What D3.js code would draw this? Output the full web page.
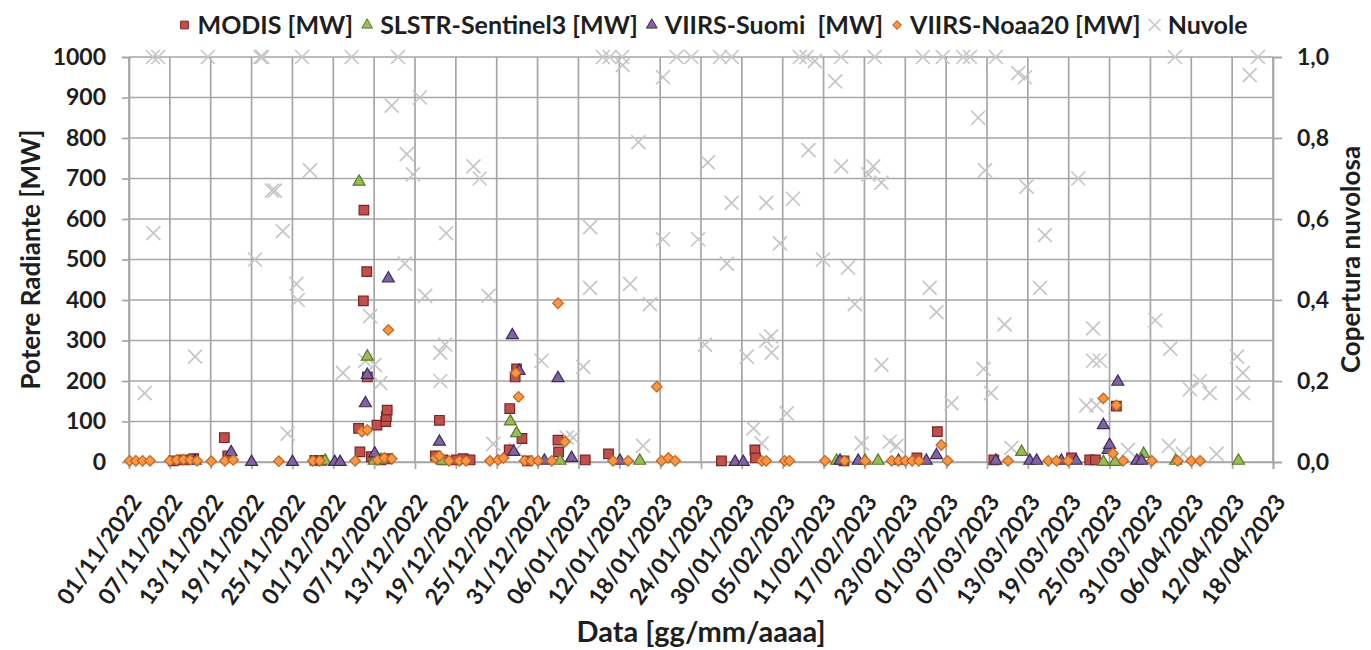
<!DOCTYPE html>
<html>
<head>
<meta charset="utf-8">
<script src="https://cdn.jsdelivr.net/npm/d3@7"></script>
<style>
body { margin: 0; background: #fff; }
text { font-family: Lato, "Open Sans", sans-serif; font-weight: bold; fill: #1e1e1e; }
</style>
</head>
<body>
<svg class="chart" width="1371" height="650"></svg>
<script>
// etichette asse x (ogni 6 giorni)
var dateLabels = ["01/11/2022", "07/11/2022", "13/11/2022", "19/11/2022", "25/11/2022", "01/12/2022",
  "07/12/2022", "13/12/2022", "19/12/2022", "25/12/2022", "31/12/2022", "06/01/2023", "12/01/2023",
  "18/01/2023", "24/01/2023", "30/01/2023", "05/02/2023", "11/02/2023", "17/02/2023", "23/02/2023",
  "01/03/2023", "07/03/2023", "13/03/2023", "19/03/2023", "25/03/2023", "31/03/2023", "06/04/2023",
  "12/04/2023", "18/04/2023"];
var leftTicks = [0, 100, 200, 300, 400, 500, 600, 700, 800, 900, 1000];
var rightTicks = [0, 0.2, 0.4, 0.6, 0.8, 1.0];

// potere radiante [MW]
var modis = [
  ["07/11/2022 12:00", 3], ["09/11/2022 00:00", 5], ["10/11/2022 12:00", 8], ["15/11/2022 00:00", 60],
  ["15/11/2022 12:00", 15], ["28/11/2022 07:00", 4], ["29/11/2022 07:00", 4], ["04/12/2022 17:00", 83],
  ["04/12/2022 22:00", 25], ["05/12/2022 12:00", 622], ["05/12/2022 10:00", 398], ["05/12/2022 22:00", 470],
  ["06/12/2022 00:00", 210], ["06/12/2022 14:00", 13], ["07/12/2022 10:00", 91], ["08/12/2022 00:00", 5],
  ["08/12/2022 17:00", 100], ["08/12/2022 19:00", 112], ["08/12/2022 22:00", 128], ["09/12/2022 00:00", 8],
  ["16/12/2022 00:00", 15], ["16/12/2022 14:00", 103], ["17/12/2022 02:00", 5], ["19/12/2022 02:00", 5],
  ["20/12/2022 02:00", 8], ["21/12/2022 02:00", 5], ["26/12/2022 22:00", 132], ["26/12/2022 20:00", 30],
  ["27/12/2022 17:00", 210], ["27/12/2022 22:00", 230], ["28/12/2022 17:00", 58], ["29/12/2022 12:00", 3],
  ["03/01/2023 00:00", 54], ["03/01/2023 02:00", 25], ["07/01/2023 00:00", 5], ["10/01/2023 10:00", 20],
  ["27/01/2023 00:00", 3], ["31/01/2023 22:00", 30], ["01/02/2023 00:00", 10], ["14/02/2023 00:00", 3],
  ["24/02/2023 17:00", 10], ["27/02/2023 17:00", 75], ["08/03/2023 00:00", 5], ["19/03/2023 10:00", 10],
  ["22/03/2023 02:00", 5], ["22/03/2023 22:00", 5], ["26/03/2023 00:00", 138]
];
var slstr = [
  ["29/11/2022 19:00", 3], ["04/12/2022 19:00", 692], ["06/12/2022 00:00", 260], ["07/12/2022 00:00", 3],
  ["08/12/2022 00:00", 5], ["17/12/2022 00:00", 3], ["27/12/2022 00:00", 100], ["27/12/2022 22:00", 71],
  ["03/01/2023 07:00", 3], ["15/01/2023 00:00", 3], ["12/02/2023 22:00", 3], ["17/02/2023 02:00", 3],
  ["19/02/2023 00:00", 3], ["12/03/2023 02:00", 25], ["24/03/2023 02:00", 0], ["25/03/2023 19:00", 0],
  ["30/03/2023 00:00", 20], ["03/04/2023 17:00", 3], ["12/04/2023 22:00", 3]
];
var suomi = [
  ["10/11/2022 17:00", 3], ["16/11/2022 00:00", 24], ["19/11/2022 00:00", 0], ["25/11/2022 00:00", 0],
  ["01/12/2022 05:00", 0], ["02/12/2022 00:00", 0], ["05/12/2022 17:00", 145], ["06/12/2022 00:00", 215],
  ["07/12/2022 02:00", 21], ["09/12/2022 02:00", 453], ["16/12/2022 14:00", 50], ["27/12/2022 07:00", 313],
  ["27/12/2022 12:00", 25], ["28/12/2022 07:00", 225], ["01/01/2023 00:00", 3], ["03/01/2023 00:00", 207],
  ["05/01/2023 00:00", 10], ["12/01/2023 02:00", 3], ["29/01/2023 00:00", 0], ["30/01/2023 05:00", 0],
  ["13/02/2023 10:00", 3], ["16/02/2023 02:00", 3], ["22/02/2023 00:00", 3], ["26/02/2023 02:00", 3],
  ["27/02/2023 14:00", 17], ["08/03/2023 07:00", 3], ["13/03/2023 07:00", 3], ["14/03/2023 07:00", 3],
  ["17/03/2023 22:00", 3], ["20/03/2023 02:00", 3], ["24/03/2023 02:00", 91], ["24/03/2023 19:00", 30],
  ["25/03/2023 00:00", 42], ["26/03/2023 05:00", 198], ["29/03/2023 00:00", 3], ["29/03/2023 17:00", 3]
];
var noaa20 = [
  ["01/11/2022 02:00", 3], ["02/11/2022 00:00", 3], ["03/11/2022 00:00", 3], ["04/11/2022 02:00", 3],
  ["07/11/2022 00:00", 3], ["08/11/2022 00:00", 5], ["09/11/2022 00:00", 6], ["10/11/2022 00:00", 5],
  ["11/11/2022 00:00", 3], ["13/11/2022 02:00", 2], ["15/11/2022 02:00", 3], ["16/11/2022 07:00", 5],
  ["23/11/2022 00:00", 2], ["28/11/2022 00:00", 3], ["29/11/2022 00:00", 3], ["04/12/2022 05:00", 3],
  ["05/12/2022 05:00", 75], ["06/12/2022 00:00", 79], ["07/12/2022 12:00", 5], ["08/12/2022 12:00", 10],
  ["09/12/2022 02:00", 326], ["09/12/2022 14:00", 8], ["16/12/2022 00:00", 10], ["16/12/2022 14:00", 15],
  ["18/12/2022 00:00", 3], ["19/12/2022 12:00", 3], ["20/12/2022 12:00", 3], ["24/12/2022 00:00", 3],
  ["25/12/2022 05:00", 5], ["26/12/2022 00:00", 10], ["27/12/2022 19:00", 220], ["28/12/2022 05:00", 161],
  ["29/12/2022 02:00", 3], ["30/12/2022 02:00", 3], ["31/12/2022 02:00", 3], ["02/01/2023 02:00", 3],
  ["03/01/2023 00:00", 392], ["04/01/2023 00:00", 50], ["11/01/2023 02:00", 3], ["13/01/2023 07:00", 3],
  ["17/01/2023 12:00", 186], ["18/01/2023 05:00", 3], ["19/01/2023 05:00", 10], ["20/01/2023 05:00", 3],
  ["01/02/2023 22:00", 3], ["02/02/2023 14:00", 3], ["05/02/2023 07:00", 3], ["06/02/2023 00:00", 3],
  ["11/02/2023 05:00", 3], ["14/02/2023 02:00", 3], ["17/02/2023 02:00", 3], ["21/02/2023 00:00", 3],
  ["22/02/2023 00:00", 3], ["23/02/2023 00:00", 3], ["24/02/2023 00:00", 3], ["25/02/2023 00:00", 3],
  ["28/02/2023 07:00", 42], ["01/03/2023 05:00", 3], ["10/03/2023 02:00", 3], ["16/03/2023 00:00", 3],
  ["17/03/2023 05:00", 3], ["18/03/2023 22:00", 3], ["24/03/2023 02:00", 157], ["25/03/2023 12:00", 21],
  ["26/03/2023 00:00", 140], ["27/03/2023 00:00", 3], ["31/03/2023 05:00", 3], ["04/04/2023 00:00", 3],
  ["06/04/2023 00:00", 3], ["07/04/2023 07:00", 3]
];
// copertura nuvolosa (asse secondario)
var nuvole = [
  ["03/11/2022 07:00", 0.17], ["04/11/2022 14:00", 0.565], ["04/11/2022 12:00", 1.0], ["05/11/2022 07:00", 1.0],
  ["10/11/2022 17:00", 0.26], ["12/11/2022 14:00", 1.0], ["19/11/2022 12:00", 0.50], ["20/11/2022 07:00", 1.0],
  ["20/11/2022 14:00", 1.0], ["22/11/2022 00:00", 0.67], ["22/11/2022 10:00", 0.67], ["23/11/2022 14:00", 0.57],
  ["24/11/2022 07:00", 0.07], ["25/11/2022 14:00", 0.44], ["25/11/2022 19:00", 0.40], ["26/11/2022 10:00", 1.0],
  ["27/11/2022 14:00", 0.72], ["02/12/2022 10:00", 0.22], ["03/12/2022 17:00", 1.0], ["05/12/2022 17:00", 0.25],
  ["06/12/2022 10:00", 0.36], ["07/12/2022 02:00", 0.24], ["07/12/2022 22:00", 0.195], ["09/12/2022 14:00", 0.88],
  ["10/12/2022 12:00", 1.0], ["11/12/2022 12:00", 0.49], ["11/12/2022 19:00", 0.76], ["12/12/2022 17:00", 0.71],
  ["13/12/2022 17:00", 0.90], ["14/12/2022 12:00", 0.41], ["16/12/2022 17:00", 0.27], ["17/12/2022 10:00", 0.29],
  ["16/12/2022 17:00", 0.20], ["17/12/2022 14:00", 0.565], ["21/12/2022 14:00", 0.73], ["22/12/2022 12:00", 0.70],
  ["23/12/2022 19:00", 0.41], ["24/12/2022 12:00", 0.045], ["27/12/2022 19:00", 0.03], ["31/12/2022 14:00", 0.25],
  ["04/01/2023 07:00", 0.06], ["05/01/2023 05:00", 0.06], ["06/01/2023 17:00", 0.235], ["07/01/2023 17:00", 0.58],
  ["07/01/2023 17:00", 0.43], ["09/01/2023 14:00", 1.0], ["10/01/2023 14:00", 1.0], ["12/01/2023 10:00", 1.0],
  ["12/01/2023 12:00", 0.98], ["13/01/2023 14:00", 0.44], ["14/01/2023 19:00", 0.79], ["15/01/2023 12:00", 0.04],
  ["16/01/2023 12:00", 0.39], ["18/01/2023 10:00", 0.95], ["18/01/2023 10:00", 0.55], ["20/01/2023 10:00", 1.0],
  ["22/01/2023 14:00", 1.0], ["23/01/2023 14:00", 0.55], ["24/01/2023 14:00", 0.29], ["25/01/2023 00:00", 0.74],
  ["26/01/2023 19:00", 1.0], ["28/01/2023 12:00", 1.0], ["27/01/2023 19:00", 0.49], ["28/01/2023 12:00", 0.64],
  ["30/01/2023 17:00", 0.26], ["31/01/2023 17:00", 0.083], ["01/02/2023 22:00", 0.046], ["02/02/2023 14:00", 0.64],
  ["02/02/2023 14:00", 0.30], ["03/02/2023 07:00", 0.31], ["03/02/2023 09:00", 0.27], ["04/02/2023 14:00", 0.54],
  ["05/02/2023 14:00", 0.12], ["06/02/2023 12:00", 0.65], ["07/02/2023 12:00", 1.0], ["08/02/2023 12:00", 1.0],
  ["09/02/2023 17:00", 0.99], ["08/02/2023 19:00", 0.77], ["10/02/2023 22:00", 0.50], ["12/02/2023 17:00", 0.94],
  ["13/02/2023 14:00", 1.0], ["13/02/2023 14:00", 0.73], ["14/02/2023 14:00", 0.48], ["15/02/2023 14:00", 0.39],
  ["16/02/2023 14:00", 0.046], ["17/02/2023 14:00", 0.71], ["18/02/2023 07:00", 0.73], ["18/02/2023 12:00", 1.0],
  ["19/02/2023 12:00", 0.69], ["19/02/2023 12:00", 0.24], ["20/02/2023 17:00", 0.05], ["21/02/2023 17:00", 0.04],
  ["25/02/2023 14:00", 1.0], ["26/02/2023 14:00", 0.43], ["27/02/2023 14:00", 0.37], ["28/02/2023 12:00", 1.0],
  ["01/03/2023 19:00", 0.145], ["03/03/2023 12:00", 1.0], ["04/03/2023 12:00", 1.0], ["05/03/2023 17:00", 0.85],
  ["06/03/2023 12:00", 0.23], ["06/03/2023 17:00", 0.72], ["07/03/2023 14:00", 0.17], ["08/03/2023 07:00", 1.0],
  ["09/03/2023 14:00", 0.34], ["10/03/2023 14:00", 0.035], ["11/03/2023 14:00", 0.96], ["12/03/2023 14:00", 0.95],
  ["12/03/2023 19:00", 0.68], ["14/03/2023 19:00", 0.43], ["15/03/2023 12:00", 0.56], ["20/03/2023 10:00", 0.70],
  ["21/03/2023 14:00", 0.14], ["23/03/2023 02:00", 0.14], ["22/03/2023 14:00", 0.33], ["22/03/2023 14:00", 0.25],
  ["23/03/2023 14:00", 0.25], ["27/03/2023 17:00", 0.03], ["31/03/2023 17:00", 0.35], ["02/04/2023 17:00", 0.04],
  ["02/04/2023 22:00", 0.28], ["03/04/2023 14:00", 1.0], ["04/04/2023 19:00", 0.02], ["05/04/2023 19:00", 0.18],
  ["07/04/2023 07:00", 0.20], ["08/04/2023 17:00", 0.17], ["09/04/2023 17:00", 0.02], ["12/04/2023 17:00", 0.26],
  ["13/04/2023 14:00", 0.22], ["13/04/2023 14:00", 0.17], ["14/04/2023 14:00", 0.955], ["15/04/2023 19:00", 1.0]
];

var parseDay = d3.utcParse("%d/%m/%Y"),
    parseTime = d3.utcParse("%d/%m/%Y %H:%M");

var margin = {top: 57, right: 98, bottom: 188, left: 129},
    width = 1371 - margin.left - margin.right,
    height = 650 - margin.top - margin.bottom;

var gridColor = "#a6a6a6";

var x = d3.scaleUtc()
    .domain([parseDay(dateLabels[0]), parseDay(dateLabels[dateLabels.length - 1])])
    .range([0, width]);
var y = d3.scaleLinear().domain([0, 1000]).range([height, 0]);
var y2 = d3.scaleLinear().domain([0, 1]).range([height, 0]);

var svg = d3.select(".chart");
var g = svg.append("g").attr("transform", "translate(" + margin.left + "," + margin.top + ")");

// griglia orizzontale e verticale
g.selectAll(".hgrid").data(leftTicks).enter().append("line")
  .attr("x1", 0).attr("x2", width)
  .attr("y1", function(d) { return y(d); }).attr("y2", function(d) { return y(d); })
  .attr("stroke", gridColor).attr("stroke-width", 1.7);
g.selectAll(".vgrid").data(dateLabels).enter().append("line")
  .attr("x1", function(d) { return x(parseDay(d)); }).attr("x2", function(d) { return x(parseDay(d)); })
  .attr("y1", 0).attr("y2", height)
  .attr("stroke", gridColor).attr("stroke-width", 1.7);

// assi
var yAxis = g.append("g").call(d3.axisLeft(y).tickValues(leftTicks).tickSize(7).tickPadding(16)
  .tickFormat(d3.format("d")));
var y2Axis = g.append("g").attr("transform", "translate(" + width + ",0)")
  .call(d3.axisRight(y2).tickValues(rightTicks).tickSize(9).tickPadding(15)
    .tickFormat(function(d) { return d3.format(".1f")(d).replace(".", ","); }));
var xAxis = g.append("g").attr("transform", "translate(0," + height + ")")
  .call(d3.axisBottom(x).tickValues(dateLabels.map(parseDay)).tickSize(7).tickFormat(""));

[yAxis, y2Axis, xAxis].forEach(function(a) {
  a.select(".domain").attr("stroke", gridColor).attr("stroke-width", 1.7);
  a.selectAll(".tick line").attr("stroke", gridColor).attr("stroke-width", 1.7);
  a.selectAll(".tick text").attr("font-size", 23).attr("font-family", null).attr("fill", "#1e1e1e");
});

// etichette date ruotate
g.selectAll(".xlabel").data(dateLabels).enter().append("text")
  .attr("transform", function(d) { return "translate(" + (x(parseDay(d)) + 7) + "," + (height + 35) + ") rotate(-55)"; })
  .attr("text-anchor", "end")
  .attr("dy", "0.35em")
  .attr("font-size", 23)
  .text(function(d) { return d; });

// marcatori
function drawSeries(data, cls, shape, size, fill, stroke, rot) {
  g.selectAll("." + cls).data(data).enter().append("path")
    .attr("class", cls)
    .attr("d", d3.symbol().type(shape).size(size))
    .attr("transform", function(d) {
      return "translate(" + x(parseTime(d[0])) + "," + y(d[1]) + ")" + (rot ? " rotate(" + rot + ")" : "");
    })
    .attr("fill", fill).attr("stroke", stroke).attr("stroke-width", 1.2);
}

var crossPath = "M-7,-7L7,7M-7,7L7,-7";
g.selectAll(".nuvole").data(nuvole).enter().append("path")
  .attr("class", "nuvole")
  .attr("d", crossPath)
  .attr("transform", function(d) { return "translate(" + x(parseTime(d[0])) + "," + y2(d[1]) + ")"; })
  .attr("fill", "none").attr("stroke", "#c6c6c6").attr("stroke-width", 1.7);

drawSeries(modis, "modis", d3.symbolSquare, 92, "#c0504d", "#7a2523", 0);
drawSeries(slstr, "slstr", d3.symbolTriangle, 62, "#9bbb59", "#5b7a2a", 0);
drawSeries(suomi, "suomi", d3.symbolTriangle, 62, "#8064a2", "#3f2c5a", 0);
drawSeries(noaa20, "noaa", d3.symbolSquare, 56, "#f79646", "#c0651f", 45);

// titoli assi
svg.append("text")
  .attr("transform", "translate(40," + (margin.top + height / 2) + ") rotate(-90)")
  .attr("text-anchor", "middle").attr("font-size", 26)
  .text("Potere Radiante [MW]");
svg.append("text")
  .attr("transform", "translate(1360," + (margin.top + height / 2) + ") rotate(-90)")
  .attr("text-anchor", "middle").attr("font-size", 26)
  .text("Copertura nuvolosa");
svg.append("text")
  .attr("x", margin.left + width / 2).attr("y", 642)
  .attr("text-anchor", "middle").attr("font-size", 29)
  .text("Data [gg/mm/aaaa]");

// legenda
var legendItems = [
  {name: "MODIS [MW]", shape: d3.symbolSquare, size: 60, fill: "#c0504d", stroke: "#7a2523", rot: 0},
  {name: "SLSTR-Sentinel3 [MW]", shape: d3.symbolTriangle, size: 50, fill: "#9bbb59", stroke: "#5b7a2a", rot: 0},
  {name: "VIIRS-Suomi  [MW]", shape: d3.symbolTriangle, size: 50, fill: "#8064a2", stroke: "#3f2c5a", rot: 0},
  {name: "VIIRS-Noaa20 [MW]", shape: d3.symbolSquare, size: 36, fill: "#f79646", stroke: "#c0651f", rot: 45},
  {name: "Nuvole", cross: true}
];
var legend = svg.append("g");
var lx = 0;
legendItems.forEach(function(it) {
  var item = legend.append("g").attr("transform", "translate(" + lx + ",0)");
  if (it.cross) {
    item.append("path").attr("d", "M-6,-6L6,6M-6,6L6,-6")
      .attr("stroke", "#c6c6c6").attr("stroke-width", 1.6).attr("fill", "none");
  } else {
    item.append("path").attr("d", d3.symbol().type(it.shape).size(it.size))
      .attr("transform", it.rot ? "rotate(" + it.rot + ")" : null)
      .attr("fill", it.fill).attr("stroke", it.stroke).attr("stroke-width", 1);
  }
  var t = item.append("text").attr("x", 13).attr("dy", "0.35em").attr("font-size", 25)
    .style("white-space", "pre").text(it.name);
  lx += 13 + t.node().getComputedTextLength() + 14;
});
legend.attr("transform", "translate(" + (711 - (lx - 14) / 2 + 5) + ",25)");
</script>
</body>
</html>
